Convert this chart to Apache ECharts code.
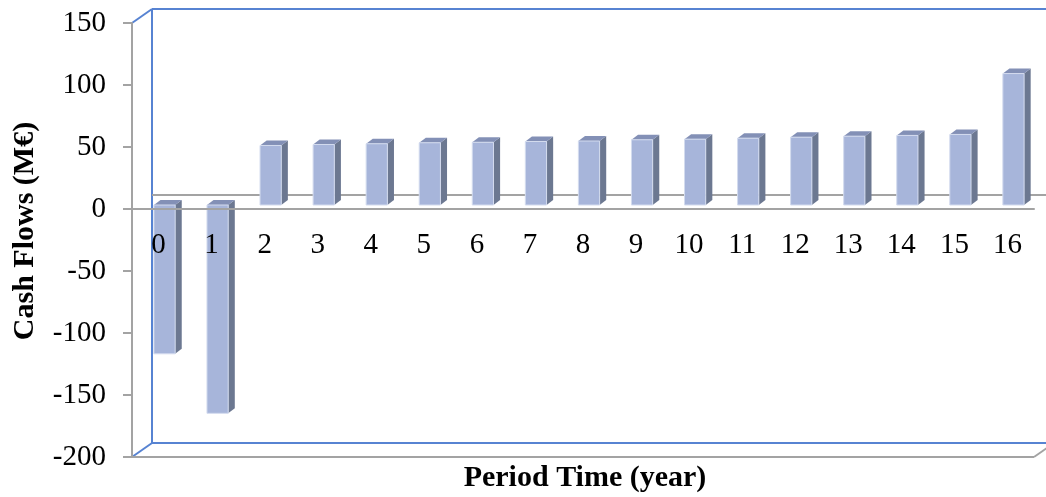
<!DOCTYPE html>
<html>
<head>
<meta charset="utf-8">
<style>
  html, body { margin: 0; padding: 0; background: #ffffff; }
  #chart { width: 1046px; height: 497px; }
</style>
<script src="https://cdn.jsdelivr.net/npm/echarts@6/dist/echarts.min.js"></script>
</head>
<body>
<div id="chart"></div>
<script>
// Project cash flows per period (M€)
const periods = ['0', '1', '2', '3', '4', '5', '6', '7', '8', '9', '10', '11', '12', '13', '14', '15', '16'];
const cashFlows = [-120, -168, 48.0, 48.8, 49.4, 50.2, 50.6, 51.2, 51.6, 52.6, 53.1, 53.9, 54.7, 55.5, 56.1, 56.9, 106];
const yMin = -200;
const yMax = 150;
const yStep = 50;

const xTitle = 'Period Time (year)';
const yTitle = 'Cash Flows (M€)';

// Oblique 3D look: depth offsets in pixels
const WALL_DX = 20, WALL_DY = -14;   // back wall relative to front axes
const BAR_DX = 6, BAR_DY = -4;       // bar front faces relative to front axes
const BAR_DEPTH_X = 6.6, BAR_DEPTH_Y = -5;
const BAR_RATIO = 0.4;
const X_LABEL_GAP = 22;              // distance of period labels below the zero line

const FRONT = '#a7b5da', SIDE = '#6c7891', TOP = '#8390b6';
const GRAY = '#a3a3a3', BLUE = '#5783d2';
const FONT = '"Liberation Serif", "Times New Roman", serif';

const GRID = { left: 132, right: 12, top: 23, bottom: 40 };

const chart = echarts.init(document.getElementById('chart'));

function renderBar(params, api) {
  const i = api.value(0);
  const v = api.value(1);
  const base = api.coord([i, 0]);
  const end = api.coord([i, v]);
  const band = api.size([1, 0])[0];
  const w = band * BAR_RATIO;
  const x0 = base[0] + BAR_DX - w / 2;
  const x1 = x0 + w;
  const yTop = Math.min(base[1], end[1]) + BAR_DY;
  const yBot = Math.max(base[1], end[1]) + BAR_DY;
  return {
    type: 'group',
    children: [
      {
        type: 'polygon',
        shape: { points: [[x1, yTop], [x1 + BAR_DEPTH_X, yTop + BAR_DEPTH_Y], [x1 + BAR_DEPTH_X, yBot + BAR_DEPTH_Y], [x1, yBot]] },
        style: { fill: SIDE }
      },
      {
        type: 'polygon',
        shape: { points: [[x0, yTop], [x0 + BAR_DEPTH_X, yTop + BAR_DEPTH_Y], [x1 + BAR_DEPTH_X, yTop + BAR_DEPTH_Y], [x1, yTop]] },
        style: { fill: TOP }
      },
      {
        type: 'rect',
        shape: { x: x0, y: yTop, width: w, height: yBot - yTop },
        style: { fill: FRONT, stroke: '#d3dbee', lineWidth: 1 }
      }
    ]
  };
}

chart.setOption({
  backgroundColor: '#ffffff',
  animation: false,
  grid: Object.assign({ containLabel: false, outerBoundsMode: 'none' }, GRID),
  xAxis: {
    type: 'category',
    data: periods,
    z: 10,
    axisLine: { onZero: true, lineStyle: { color: GRAY, width: 2 } },
    axisTick: { show: false },
    axisLabel: { margin: X_LABEL_GAP, color: '#000', fontSize: 29, fontFamily: FONT },
    splitLine: { show: false }
  },
  yAxis: {
    type: 'value',
    min: yMin,
    max: yMax,
    interval: yStep,
    axisLine: { show: true, lineStyle: { color: GRAY, width: 2 } },
    axisTick: { show: true, length: 9, lineStyle: { color: GRAY, width: 2 } },
    axisLabel: { margin: 26, color: '#000', fontSize: 29, fontFamily: FONT },
    splitLine: { show: false }
  },
  series: [{
    type: 'custom',
    renderItem: renderBar,
    encode: { x: 0, y: 1 },
    data: cashFlows.map((v, i) => [i, v]),
    z: 2
  }]
});

// Frame of the 3D box, derived from the grid and the value axis
const L = GRID.left;
const R = 1046 - GRID.right;
const T = chart.convertToPixel({ yAxisIndex: 0 }, yMax);
const B = chart.convertToPixel({ yAxisIndex: 0 }, yMin);
const Z = chart.convertToPixel({ yAxisIndex: 0 }, 0);
const farRight = R + WALL_DX + 20;

function seg(x1, y1, x2, y2, color, z) {
  return {
    type: 'line',
    z: z,
    shape: { x1: x1, y1: y1, x2: x2, y2: y2 },
    style: { stroke: color, lineWidth: 2 }
  };
}

chart.setOption({
  // period labels sit just under the zero line rather than under the floor
  xAxis: { axisLabel: { margin: X_LABEL_GAP - (B - Z) } },
  graphic: [
    // back wall and floor edges
    seg(L + WALL_DX, T + WALL_DY, L + WALL_DX, B + WALL_DY, BLUE, 0),
    seg(L + WALL_DX, T + WALL_DY, farRight, T + WALL_DY, BLUE, 0),
    seg(L, T, L + WALL_DX, T + WALL_DY, BLUE, 0),
    seg(L + WALL_DX, B + WALL_DY, farRight, B + WALL_DY, BLUE, 0),
    seg(L, B, L + WALL_DX, B + WALL_DY, BLUE, 0),
    // zero line on the back wall
    seg(L + WALL_DX, Z + WALL_DY, farRight, Z + WALL_DY, GRAY, 0),
    // front floor edge
    seg(L, B, R, B, GRAY, 0),
    seg(R, B, R + WALL_DX, B + WALL_DY, GRAY, 0),
    // axis titles
    {
      type: 'text',
      x: 25, y: 231,
      rotation: Math.PI / 2,
      style: {
        text: yTitle, fill: '#000', font: 'bold 30px ' + FONT,
        align: 'center', verticalAlign: 'middle'
      }
    },
    {
      type: 'text',
      x: 585, y: 478,
      style: {
        text: xTitle, fill: '#000', font: 'bold 30px ' + FONT,
        align: 'center', verticalAlign: 'middle'
      }
    }
  ]
});
</script>
</body>
</html>
